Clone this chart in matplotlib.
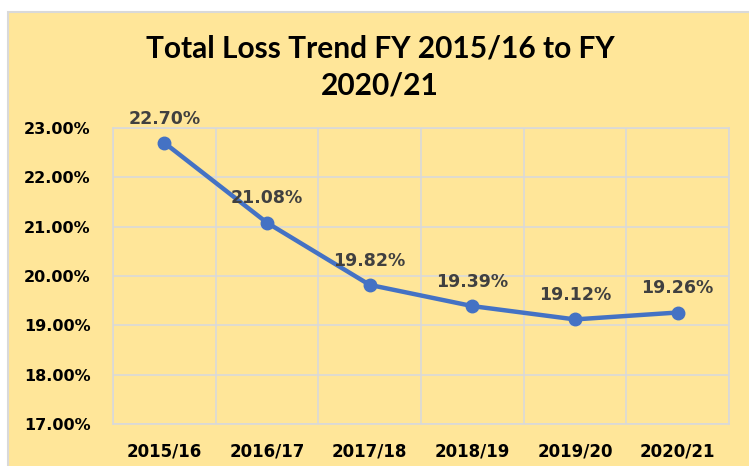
import numpy as np
import matplotlib
matplotlib.use("Agg")
import matplotlib.pyplot as plt
from matplotlib.patches import Rectangle

years = ["2015/16", "2016/17", "2017/18", "2018/19", "2019/20", "2020/21"]
loss_pct = [22.70, 21.08, 19.82, 19.39, 19.12, 19.26]
y_ticks = [17, 18, 19, 20, 21, 22, 23]

bg = "#FFE699"
grid_col = "#D9D9D9"
line_col = "#4472C4"

fig = plt.figure(figsize=(7.49, 4.66), dpi=100)
fig.patch.set_facecolor("white")

# yellow chart area with a light border
W, H = 749, 466
fig.patches.append(Rectangle((8 / W, -0.01), 1.0, (466 - 12) / H + 0.01,
                             transform=fig.transFigure, facecolor=bg,
                             edgecolor=grid_col, linewidth=1.5, zorder=-5))

ax = fig.add_axes([113 / W, 1 - 424 / H, (729 - 113) / W, (424 - 128) / H])
ax.set_facecolor(bg)

x = np.arange(len(years))
ax.plot(x, loss_pct, color=line_col, linewidth=3.2, marker="o",
        markersize=9, zorder=3, clip_on=False)

for xi, v in zip(x, loss_pct):
    ax.annotate(f"{v:.2f}%", (xi, v), xytext=(0, 11), textcoords="offset points",
                ha="center", va="bottom", fontsize=12.5, fontweight="bold",
                color="#404040", family="DejaVu Sans", zorder=4)

ax.set_xlim(-0.5, len(years) - 0.5)
ax.set_ylim(17, 23)
ax.set_xticks(x)
ax.set_xticklabels(years)
ax.set_xticks(np.arange(-0.5, len(years), 1.0), minor=True)
ax.set_yticks(y_ticks)
ax.set_yticklabels([f"{t:.2f}%" for t in y_ticks])

ax.grid(which="minor", axis="x", color=grid_col, linewidth=1.2)
ax.grid(which="major", axis="y", color=grid_col, linewidth=1.2)
ax.set_axisbelow(True)
for s in ax.spines.values():
    s.set_color(grid_col)
    s.set_linewidth(1.2)

ax.tick_params(axis="both", which="both", length=0)
ax.tick_params(axis="x", pad=13)
ax.tick_params(axis="y", pad=16)
for lab in ax.get_xticklabels():
    lab.set_fontweight("bold")
    lab.set_fontsize(12)
for lab in ax.get_yticklabels():
    lab.set_fontweight("bold")
    lab.set_fontsize(11.5)

fig.text(380 / W, 1 - 67 / H,
         "Total Loss Trend FY 2015/16 to FY\n2020/21",
         ha="center", va="center", fontsize=21.5, fontweight="bold",
         family="Lato", linespacing=1.4)

fig.savefig("out.png", dpi=100, facecolor=fig.get_facecolor())
